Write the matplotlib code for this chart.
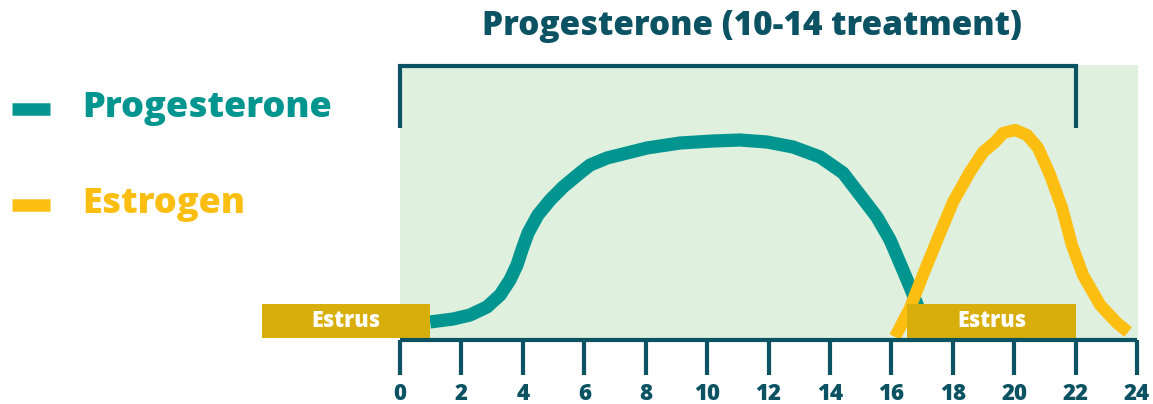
import matplotlib.pyplot as plt
from matplotlib.patches import Rectangle

# ----------------------------------------
# Data
# ----------------------------------------
prog_day = [0.98, 1.73, 2.28, 2.83, 3.26, 3.58, 3.81, 3.97, 4.17, 4.49,
            4.89, 5.31, 5.86, 6.19, 6.74, 8.04, 9.12, 10.19, 11.07, 11.95,
            12.80, 13.68, 14.43, 14.98, 15.53, 15.96, 16.28, 16.61, 16.87]
prog_level = [18, 21, 25, 33, 45, 60, 75, 90, 107, 125,
              140, 153, 167, 175, 182, 192, 197, 199, 200, 198,
              193, 183, 167, 145, 123, 100, 77, 53, 33]

estr_day = [16.12, 16.61, 17.03, 17.52, 18.01, 18.56, 18.99, 19.38, 19.64,
            20.03, 20.42, 20.78, 21.17, 21.56, 21.88, 22.24, 22.80, 23.35, 23.71]
estr_level = [3, 32, 65, 102, 138, 168, 188, 198, 207,
              210, 205, 192, 165, 132, 95, 65, 35, 17, 8]

tick_days = [0, 2, 4, 6, 8, 10, 12, 14, 16, 18, 20, 22, 24]
estrus_periods = [(-4.49, 0.98), (16.51, 22.01)]
treatment = (0, 22)

title = "Progesterone (10-14 treatment)"

# ----------------------------------------
# Colours
# ----------------------------------------
DARK = "#0B5263"
TEAL = "#00968F"
YELLOW = "#FDBE12"
GOLD = "#D7AE0B"
BG = "#E0F0DE"

plt.rcParams["font.family"] = ["Open Sans", "DejaVu Sans"]
W = "extra bold"

fig = plt.figure(figsize=(11.53, 4.04), dpi=100)
ax = fig.add_axes([0, 0, 1, 1])
ax.set_xlim(-13.026, 24.521)
ax.set_ylim(-64, 340)
ax.axis("off")

# background panel
ax.add_patch(Rectangle((0, 0), 24.03, 275, facecolor=BG, edgecolor="none", zorder=0))

# treatment bracket
ax.plot([treatment[0], treatment[0], treatment[1], treatment[1]], [212, 274, 274, 212],
        color=DARK, linewidth=3, solid_capstyle="butt", solid_joinstyle="miter", zorder=2)
ax.text(11.46, 314, title, ha="center", va="center", fontsize=24,
        fontweight=W, color=DARK)

# hormone curves
ax.plot(prog_day, prog_level, color=TEAL, linewidth=9.5, solid_capstyle="butt",
        solid_joinstyle="round", zorder=3)
ax.plot(estr_day, estr_level, color=YELLOW, linewidth=8.8, solid_capstyle="butt",
        solid_joinstyle="round", zorder=4)

# estrus boxes
for start, end in estrus_periods:
    ax.add_patch(Rectangle((start, 2), end - start, 34, facecolor=GOLD,
                           edgecolor="none", zorder=5))
    ax.text((start + end) / 2, 19, "Estrus", ha="center", va="center",
            fontsize=15.5, fontweight=W, color="white", zorder=6)

# x axis
ax.plot([0, 24], [0, 0], color=DARK, linewidth=3, solid_capstyle="butt", zorder=6)
ax.vlines(tick_days, -35, 0, color=DARK, linewidth=3, zorder=6)
for d in tick_days:
    ax.text(d, -54, str(d), ha="center", va="center", fontsize=16,
            fontweight=W, color=DARK)

# legend
ax.plot([-12.64, -11.40], [231, 231], color=TEAL, linewidth=9, solid_capstyle="butt")
ax.text(-10.36, 232, "Progesterone", ha="left", va="center", fontsize=26,
        fontweight=W, color=TEAL)
ax.plot([-12.64, -11.40], [135, 135], color=YELLOW, linewidth=9, solid_capstyle="butt")
ax.text(-10.36, 136, "Estrogen", ha="left", va="center", fontsize=26,
        fontweight=W, color=YELLOW)

fig.savefig("out.png", dpi=100)
